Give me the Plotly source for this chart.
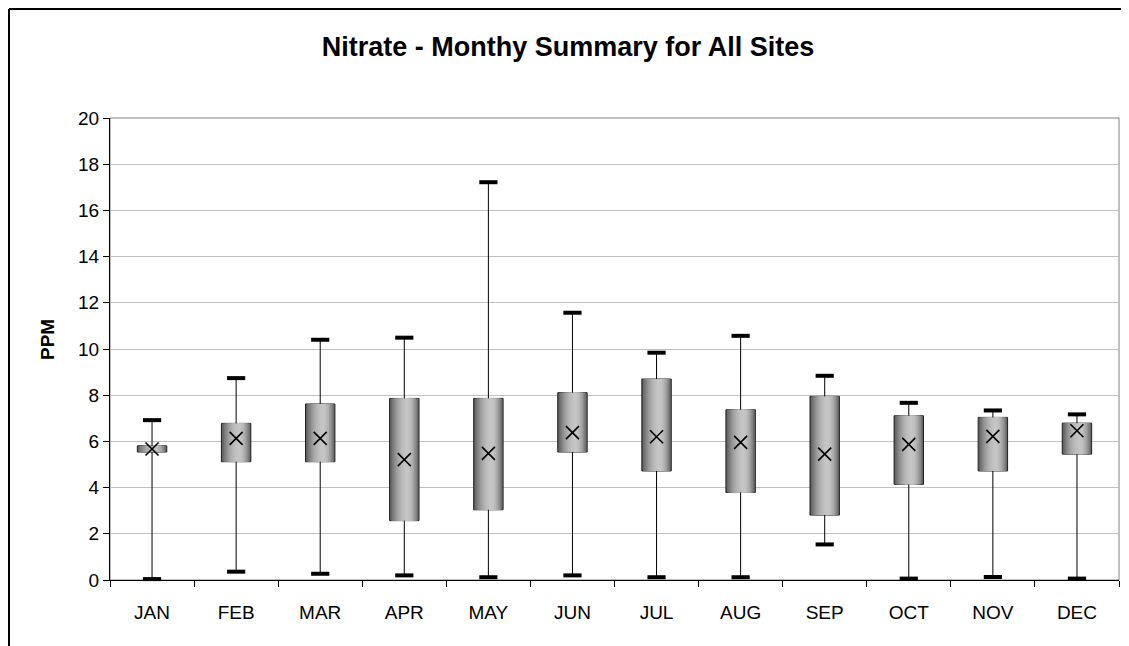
import plotly.graph_objects as go

months = ["JAN", "FEB", "MAR", "APR", "MAY", "JUN", "JUL", "AUG", "SEP", "OCT", "NOV", "DEC"]
max_vals = [6.92, 8.74, 10.40, 10.49, 17.22, 11.57, 9.84, 10.57, 8.84, 7.67, 7.34, 7.17]
q3_vals = [5.81, 6.78, 7.62, 7.86, 7.86, 8.11, 8.70, 7.37, 7.95, 7.11, 7.04, 6.79]
mean_vals = [5.67, 6.13, 6.13, 5.21, 5.48, 6.38, 6.20, 5.96, 5.45, 5.87, 6.22, 6.46]
q1_vals = [5.54, 5.12, 5.12, 2.57, 3.04, 5.54, 4.72, 3.79, 2.81, 4.14, 4.72, 5.45]
min_vals = [0.04, 0.36, 0.27, 0.20, 0.12, 0.20, 0.12, 0.12, 1.54, 0.06, 0.13, 0.06]

# the page body adds an 8px margin; figure is sized to fit the window
OFF = 8
W, H = 1129 - OFF, 646 - OFF
L, R, T, B = 110 - OFF, 10, 118 - OFF, 66
pw, ph = W - L - R, H - T - B

def px_x(px):  # px in screenshot coordinates
    return (px - OFF - L) / pw

def px_y(py):
    return (H - B - (py - OFF)) / ph

fig = go.Figure()

# gradient-filled boxes: layered bars
box_w = 0.35
peak = 0.6
n_layers = 14
dark = (92, 92, 92)
light = (198, 198, 198)
heights = [a - b for a, b in zip(q3_vals, q1_vals)]
for k in range(n_layers):
    f = k / n_layers
    left = -box_w / 2 + f * peak * box_w
    right = box_w / 2 - f * (1 - peak) * box_w
    t = (1 - (1 - f) ** 2)
    col = tuple(int(d + (l - d) * t) for d, l in zip(dark, light))
    fig.add_trace(go.Bar(
        x=months, y=heights, base=q1_vals,
        width=[right - left] * len(months),
        offset=[left] * len(months),
        marker=dict(color="rgb(%d,%d,%d)" % col,
                    line=dict(color="#202020" if k == 0 else "rgba(0,0,0,0)",
                              width=1 if k == 0 else 0)),
        showlegend=False, hoverinfo="skip",
    ))

# upper whiskers
fig.add_trace(go.Scatter(
    x=months, y=q3_vals, mode="markers",
    marker=dict(size=1, opacity=0),
    error_y=dict(type="data", symmetric=False,
                 array=[a - b for a, b in zip(max_vals, q3_vals)],
                 arrayminus=[0] * len(months),
                 width=0, thickness=1, color="#000000"),
    showlegend=False, hoverinfo="skip",
))
# lower whiskers
fig.add_trace(go.Scatter(
    x=months, y=q1_vals, mode="markers",
    marker=dict(size=1, opacity=0),
    error_y=dict(type="data", symmetric=False,
                 array=[0] * len(months),
                 arrayminus=[a - b for a, b in zip(q1_vals, min_vals)],
                 width=0, thickness=1, color="#000000"),
    showlegend=False, hoverinfo="skip",
))
# caps
for vals in (max_vals, min_vals):
    fig.add_trace(go.Scatter(
        x=months, y=vals, mode="markers", cliponaxis=False,
        marker=dict(symbol="line-ew", size=13, line=dict(color="#000000", width=4)),
        showlegend=False, hoverinfo="skip",
    ))
# means
fig.add_trace(go.Scatter(
    x=months, y=mean_vals, mode="markers", cliponaxis=False,
    marker=dict(symbol="x-thin", size=13, line=dict(color="#000000", width=1.6)),
    showlegend=False, hoverinfo="skip",
))

font = "Arial, Liberation Sans, sans-serif"

fig.update_layout(
    width=W, height=H,
    margin=dict(l=L, r=R, t=T, b=B),
    paper_bgcolor="white", plot_bgcolor="white",
    barmode="overlay",
    font=dict(family=font, color="#000000", size=19),
    title=dict(text="<b>Nitrate - Monthy Summary for All Sites</b>",
               font=dict(family=font, size=27, color="#000000"),
               xref="container", x=(568 - OFF) / W, xanchor="center",
               yref="container", y=1 - (47 - OFF) / H, yanchor="middle"),
    xaxis=dict(
        type="category", categoryorder="array", categoryarray=months,
        range=[-0.5, 11.5],
        showline=True, linecolor="#000000", linewidth=1,
        ticks="outside", ticklen=6, tickcolor="#000000", tickson="boundaries",
        showgrid=False, ticklabelstandoff=15,
        tickfont=dict(family=font, size=19, color="#000000"),
    ),
    yaxis=dict(
        range=[0, 20], dtick=2, tick0=0,
        showline=True, linecolor="#000000", linewidth=1,
        ticks="outside", ticklen=6, tickcolor="#000000",
        showgrid=True, gridcolor="#c0c0c0", gridwidth=1, zeroline=False,
        tickfont=dict(family=font, size=19, color="#000000"),
    ),
    annotations=[dict(
        text="<b>PPM</b>", textangle=-90, showarrow=False,
        xref="paper", yref="paper", x=px_x(47), y=px_y(340),
        xanchor="center", yanchor="middle",
        font=dict(family=font, size=19, color="#000000"),
    )],
    shapes=[
        # plot-area frame
        dict(type="rect", xref="paper", yref="paper", x0=0, x1=1, y0=0, y1=1,
             line=dict(color="#808080", width=1), layer="below"),
        # outer chart border (top and left visible)
        dict(type="line", xref="paper", yref="paper",
             x0=px_x(9), x1=px_x(1140), y0=px_y(9), y1=px_y(9),
             line=dict(color="#000000", width=2)),
        dict(type="line", xref="paper", yref="paper",
             x0=px_x(9), x1=px_x(9), y0=px_y(9), y1=px_y(660),
             line=dict(color="#000000", width=2)),
    ],
)

fig.write_html("out.html")
